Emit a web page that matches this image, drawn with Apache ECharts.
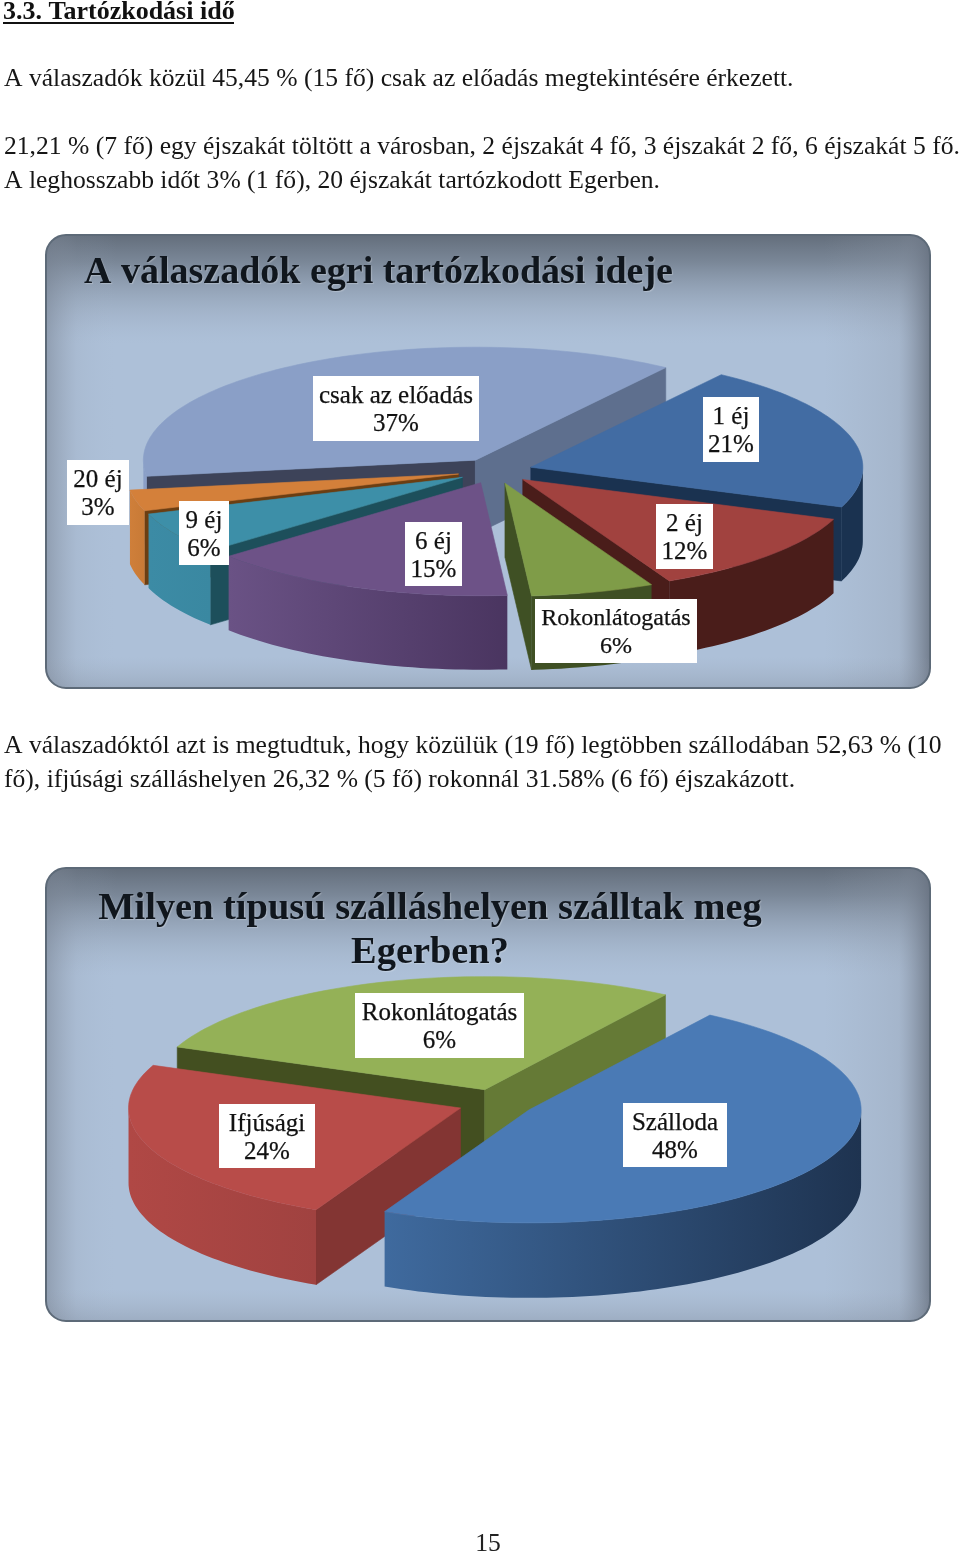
<!DOCTYPE html>
<html><head><meta charset="utf-8">
<style>html,body{margin:0;padding:0;background:#fff}#c{width:960px;height:1555px}</style>
<script src="https://cdn.jsdelivr.net/npm/echarts@6/dist/echarts.min.js"></script>
</head><body><div id="c"></div>
<script>
// ---------- data ----------
const stayCategories = ['1 éj', '2 éj', 'Rokonlátogatás', '6 éj', '9 éj', '20 éj', 'csak az előadás'];
const stayValues = [21, 12, 6, 15, 6, 3, 37];
const stayLabels = ['21%', '12%', '6%', '15%', '6%', '3%', '37%'];
const lodgingCategories = ['Szálloda', 'Ifjúsági', 'Rokonlátogatás'];
const lodgingValues = [48, 24, 28];           // slice sizes as drawn
const lodgingLabels = ['48%', '24%', '6%'];   // printed labels (as in the source)

const headingText = '3.3. Tartózkodási idő';
const bodyLines = [
  'A válaszadók közül 45,45 % (15 fő) csak az előadás megtekintésére érkezett.',
  '21,21 % (7 fő) egy éjszakát töltött a városban, 2 éjszakát 4 fő, 3 éjszakát 2 fő, 6 éjszakát 5 fő.',
  'A leghosszabb időt 3% (1 fő), 20 éjszakát tartózkodott Egerben.',
  'A válaszadóktól azt is megtudtuk, hogy közülük (19 fő) legtöbben szállodában 52,63 % (10',
  'fő), ifjúsági szálláshelyen 26,32 % (5 fő) rokonnál 31.58% (6 fő) éjszakázott.'
];
const pageNumber = '15';
const stayTitle = 'A válaszadók egri tartózkodási ideje';
const lodgingTitle = 'Milyen típusú szálláshelyen szálltak meg\nEgerben?';

// ---------- styles and layout ----------
const bodyY = [79, 147, 181, 746, 780];
const SERIF = '"Liberation Serif","Times New Roman",serif';
const stayStyle = [
  {top:'#426ca3', wall:['#1a3250','#1a3250'], cutA:'#1a3250', cutB:'#1a3250'},
  {top:'#a1423f', wall:['#4a1d1a','#4a1d1a'], cutA:'#4a1d1a', cutB:'#4a1d1a'},
  {top:'#7f9c48', wall:['#3f5024','#3f5024'], cutA:'#3f5024', cutB:'#3f5024'},
  {top:'#6d5287', wall:['#6a5285','#4a3560'], cutA:'#4a3560', cutB:'#4a3560'},
  {top:'#3d8fa8', wall:['#3c8ba5','#3a88a1'], cutA:'#1d4f5b', cutB:'#1d4f5b'},
  {top:'#d4803a', wall:['#cf7f3a','#c87a36'], cutA:'#6b3e12', cutB:'#6b3e12'},
  {top:'#8a9fc7', wall:['#8a9fc7','#8a9fc7'], cutA:'#3d4359', cutB:'#5e6f8e'}
];
const lodgingStyle = [
  {top:'#4a7ab5', wall:['#3f6a9e','#1e3350'], cutA:'#1e3350', cutB:'#1e3350'},
  {top:'#b84c49', wall:['#b04845','#a04240'], cutA:'#833533', cutB:'#833533'},
  {top:'#94b157', wall:['#94b157','#94b157'], cutA:'#434f20', cutB:'#657a36'}
];
const stayGeom = {cx:495, cy:471, rx:332, ry:113, depth:74, ex:37.5, ey:12.7, start:35};
const lodgingGeom = {cx:496, cy:1103, rx:332, ry:113, depth:75, ex:38, ey:14, start:33};
const stayBoxes = [[703,397,759,462],[656,504,713,569],[535,599,697,663],[405,522,462,586],[179,501,229,565],[67,460,129,525],[313,376,479,441]];
const stayFonts = [25, 25, 24, 25, 25, 25, 25];
const lodgingBoxes = [[623,1103,727,1167],[219,1104,315,1168],[355,993,524,1058]];
const lodgingFonts = [25, 25, 25];

const rad = d => d * Math.PI / 180;

function buildPie(values, styles, g, name) {
  const total = values.reduce((a, b) => a + b, 0);
  let a = g.start;
  const slices = values.map((v, i) => {
    const a0 = a, a1 = a + v / total * 360; a = a1;
    const mid = (a0 + a1) / 2;
    return {i, v, a0, a1, mid,
      ax: g.cx + g.ex * Math.sin(rad(mid)),
      ay: g.cy - g.ey * Math.cos(rad(mid)),
      order: -Math.cos(rad(mid))};
  }).sort((p, q) => p.order - q.order);
  const pt = (s, deg, dz) => [s.ax + g.rx * Math.sin(rad(deg)), s.ay - g.ry * Math.cos(rad(deg)) + (dz || 0)];
  return {
    type: 'custom', name, coordinateSystem: 'none', silent: true, z: 5, animation: false,
    data: slices.map(s => [s.i, s.v]),
    renderItem(params) {
      const s = slices[params.dataIndex], st = styles[s.i], kids = [];
      const poly = (points, fill) => kids.push({type:'polygon', shape:{points}, style:{fill, stroke:typeof fill === 'string' ? fill : null, lineWidth:0.6}});
      const apex = [s.ax, s.ay], apexD = [s.ax, s.ay + g.depth];
      if (Math.sin(rad(s.a0)) < 0) poly([apex, pt(s, s.a0), pt(s, s.a0, g.depth), apexD], st.cutA);
      if (Math.sin(rad(s.a1)) > 0) poly([apex, pt(s, s.a1), pt(s, s.a1, g.depth), apexD], st.cutB);
      const f0 = Math.max(s.a0, 90), f1 = Math.min(s.a1, 270);
      if (f1 > f0) {
        const up = [], down = [];
        for (let d = f0; d < f1; d += 1.5) { up.push(pt(s, d)); down.unshift(pt(s, d, g.depth)); }
        up.push(pt(s, f1)); down.unshift(pt(s, f1, g.depth));
        poly(up.concat(down), new echarts.graphic.LinearGradient(0, 0, 1, 0, [{offset:0, color:st.wall[0]}, {offset:1, color:st.wall[1]}]));
      }
      const top = [apex];
      for (let d = s.a0; d < s.a1; d += 1.5) top.push(pt(s, d));
      top.push(pt(s, s.a1));
      poly(top, st.top);
      return {type:'group', children:kids};
    }
  };
}

function buildLabels(categories, labels, boxes, fonts, name) {
  return {
    type:'custom', name: name + ' labels', coordinateSystem:'none', silent:true, z:8, animation:false,
    data: categories.map((c, i) => [i]),
    renderItem(params) {
      const i = params.dataIndex, b = boxes[i];
      return {type:'group', children:[
        {type:'rect', shape:{x:b[0], y:b[1], width:b[2]-b[0], height:b[3]-b[1]}, style:{fill:'#fff'}},
        {type:'text', x:(b[0]+b[2])/2, y:(b[1]+b[3])/2+2, style:{text:categories[i]+'\n'+labels[i], align:'center', verticalAlign:'middle',
          font:fonts[i]+'px '+SERIF, lineHeight:28, fill:'#111', stroke:'#111', lineWidth:0.25}}
      ]};
    }
  };
}

function panel(x, y, w, h) {
  const r = 20, shape = {x, y, width:w, height:h, r};
  const G = (x0,y0,x1,y1,stops) => new echarts.graphic.LinearGradient(x0,y0,x1,y1,stops);
  const layer = (fill, z) => ({type:'rect', shape, z, silent:true, style:{fill}});
  return [
    layer('#adc0d8', 1),
    layer(G(0,0,0,1,[{offset:0,color:'rgba(95,105,118,0.95)'},{offset:0.06,color:'rgba(105,116,130,0.75)'},{offset:0.24,color:'rgba(160,175,195,0)'}]), 1),
    layer(G(0,0,1,0,[{offset:0,color:'rgba(120,130,145,0.55)'},{offset:0.035,color:'rgba(140,150,165,0.12)'},{offset:0.08,color:'rgba(170,185,205,0)'}]), 1),
    layer(G(0,0,1,0,[{offset:0.88,color:'rgba(150,160,175,0)'},{offset:0.965,color:'rgba(140,150,165,0.25)'},{offset:1,color:'rgba(105,115,130,0.85)'}]), 1),
    layer(G(0,0,0,1,[{offset:0.93,color:'rgba(150,160,175,0)'},{offset:1,color:'rgba(120,130,145,0.3)'}]), 1),
    {type:'rect', shape, z:2, silent:true, style:{fill:'none', stroke:'#5d6a78', lineWidth:2}}
  ];
}

const textEls = bodyLines.map((t, i) => ({type:'text', z:3, x:4, y:bodyY[i], silent:true,
  style:{text:t, font:'25.6px '+SERIF, fill:'#161616', verticalAlign:'middle', align:'left'}}));
textEls.push({type:'text', z:3, x:3, y:12, silent:true, style:{text:headingText, font:'bold 26px '+SERIF, fill:'#111', verticalAlign:'middle'}});
textEls.push({type:'rect', z:3, silent:true, shape:{x:3, y:22, width:231, height:2}, style:{fill:'#111'}});
textEls.push({type:'text', z:3, x:488, y:1544, silent:true, style:{text:pageNumber, font:'25.6px '+SERIF, fill:'#222', align:'center', verticalAlign:'middle'}});

const chart = echarts.init(document.getElementById('c'), null, {renderer:'canvas', width:960, height:1555});
const titleStyle = {fontFamily:SERIF, fontWeight:'bold', color:'#10161d', lineHeight:44,
  textShadowColor:'rgba(255,255,255,0.25)', textShadowBlur:1, textShadowOffsetX:1, textShadowOffsetY:1};
chart.setOption({
  animation:false,
  backgroundColor:'#fff',
  title:[
    {text:stayTitle, left:84, top:251, z:10, padding:0, textStyle:{...titleStyle, fontSize:38}},
    {text:lodgingTitle, left:430, top:887, z:10, padding:0, textAlign:'center', textStyle:{...titleStyle, fontSize:38.4, align:'center'}}
  ],
  graphic:{elements:[...panel(46,235,884,453), ...panel(46,868,884,453), ...textEls]},
  series:[
    buildPie(stayValues, stayStyle, stayGeom, 'A válaszadók egri tartózkodási ideje'),
    buildLabels(stayCategories, stayLabels, stayBoxes, stayFonts, 'stay'),
    buildPie(lodgingValues, lodgingStyle, lodgingGeom, 'Milyen típusú szálláshelyen'),
    buildLabels(lodgingCategories, lodgingLabels, lodgingBoxes, lodgingFonts, 'lodging')
  ]
});
</script></body></html>
